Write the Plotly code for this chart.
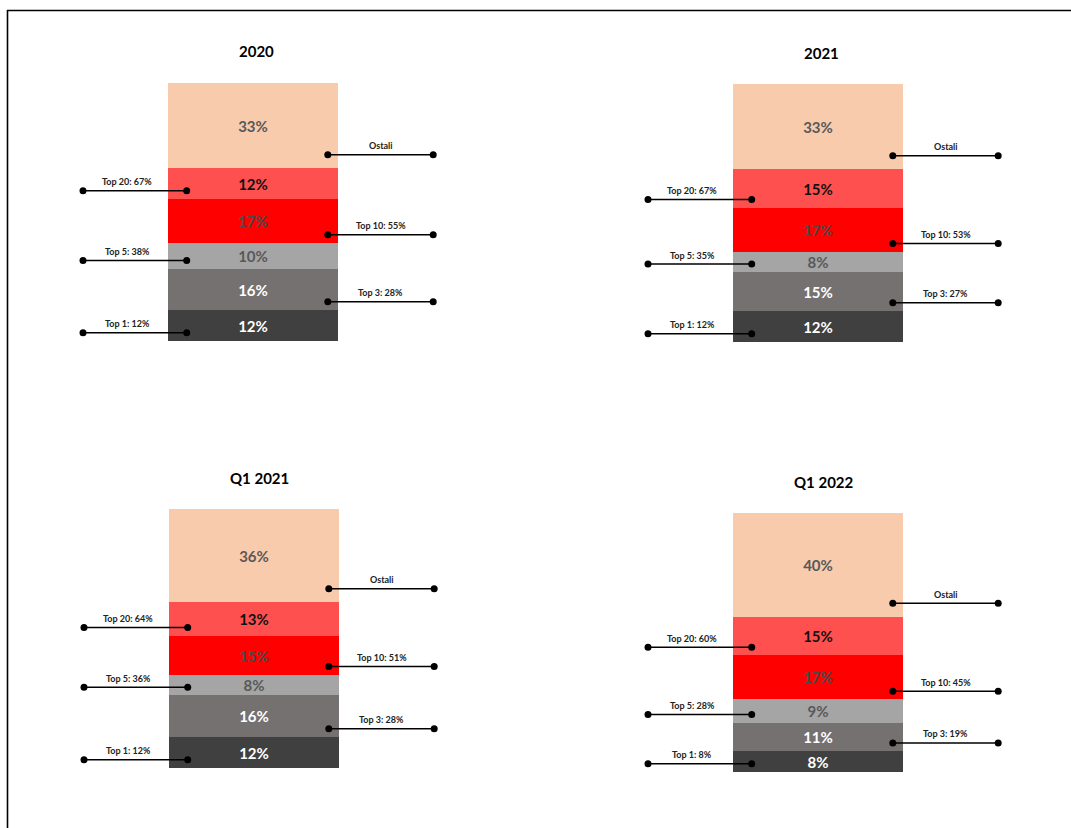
import plotly.graph_objects as go

# ---------------- data ----------------
segments = ["Top 1", "Top 2-3", "Top 4-5", "Top 6-10", "Top 11-20", "Ostali"]
panel_titles = ["2020", "2021", "Q1 2021", "Q1 2022"]

share_2020 = [12, 16, 10, 17, 12, 33]
share_2021 = [12, 15, 8, 17, 15, 33]
share_q1_2021 = [12, 16, 8, 15, 13, 36]
share_q1_2022 = [8, 11, 9, 17, 15, 40]

group_names = ["Top 1", "Top 3", "Top 5", "Top 10", "Top 20", "Ostali"]
cum_2020 = [12, 28, 38, 55, 67]
cum_2021 = [12, 27, 35, 53, 67]
cum_q1_2021 = [12, 28, 36, 51, 64]
cum_q1_2022 = [8, 19, 28, 45, 60]

shares = [share_2020, share_2021, share_q1_2021, share_q1_2022]
cums = [cum_2020, cum_2021, cum_q1_2021, cum_q1_2022]

# ---------------- styles ----------------
W, H = 1071, 828
FONT = "Lato"
seg_colors = ["#404040", "#767171", "#A5A5A5", "#FF0000", "#FF5050", "#F8CBAD"]
seg_text_colors = ["#FFFFFF", "#FFFFFF", "#595959", "#4A4A4A", "#111111", "#595959"]
label_side = ["L", "R", "L", "R", "L", "R"]
label_offset = [3.2, 3.2, 3.2, 3.2, 3.2, 5.2]

BAR_PX = 170
# (bar centre x, bar top y, bar bottom y, title x, title y) in pixels
geo = [
    (253, 83, 341, 256, 51),
    (818, 84, 342, 821, 53),
    (254, 509, 768, 259, 478),
    (818, 513, 772, 824, 482),
]
XR = 1.3
LEFT_LINE = (-1.0, -0.39)
RIGHT_LINE = (0.44, 1.06)
LEFT_TXT, RIGHT_TXT = -0.74, 0.75

fig = go.Figure()
annotations = []
layout_axes = {}

for k in range(4):
    sfx = "" if k == 0 else str(k + 1)
    xa, ya = "x" + sfx, "y" + sfx
    cx, yt, yb, tx, ty = geo[k]
    vals = shares[k]
    cum = cums[k]

    layout_axes["xaxis" + sfx] = dict(
        domain=[(cx - XR * BAR_PX) / W, (cx + XR * BAR_PX) / W],
        range=[-XR, XR], visible=False, fixedrange=True, anchor=ya,
    )
    layout_axes["yaxis" + sfx] = dict(
        domain=[1 - yb / H, 1 - yt / H],
        range=[0, 100], visible=False, fixedrange=True, anchor=xa,
    )

    for i, v in enumerate(vals):
        fig.add_trace(go.Bar(
            x=[0], y=[v], width=1, xaxis=xa, yaxis=ya,
            name=segments[i], showlegend=False,
            marker=dict(color=seg_colors[i], line=dict(width=0)),
            text=[f"{v}%"], textposition="inside", insidetextanchor="middle",
            constraintext="none",
            textfont=dict(family=FONT, size=15, color=seg_text_colors[i], weight=700),
            hoverinfo="skip",
        ))

    for j, g in enumerate(group_names):
        base = sum(vals[:j])
        yl = base + label_offset[j]
        x0, x1 = LEFT_LINE if label_side[j] == "L" else RIGHT_LINE
        fig.add_trace(go.Scatter(
            x=[x0, x1], y=[yl, yl], xaxis=xa, yaxis=ya, mode="lines+markers",
            line=dict(color="#000000", width=1.5),
            marker=dict(color="#000000", size=7),
            showlegend=False, cliponaxis=False, hoverinfo="skip",
        ))
        txt = g if j == len(group_names) - 1 else f"{g}: {cum[j]}%"
        annotations.append(dict(
            x=LEFT_TXT if label_side[j] == "L" else RIGHT_TXT, y=yl,
            xref=xa, yref=ya, text=txt, showarrow=False, yshift=9,
            font=dict(family=FONT, size=9, color="#222222", weight=700),
            xanchor="center", yanchor="middle",
        ))

    annotations.append(dict(
        x=tx / W, y=1 - ty / H, xref="paper", yref="paper", text=panel_titles[k],
        showarrow=False, xanchor="center", yanchor="middle",
        font=dict(family=FONT, size=15, color="#000000", weight=700),
    ))

shapes = [
    dict(type="line", xref="paper", yref="paper", x0=7 / W, x1=1.0,
         y0=1 - 10.5 / H, y1=1 - 10.5 / H, line=dict(color="#000000", width=1.6)),
    dict(type="line", xref="paper", yref="paper", x0=7.5 / W, x1=7.5 / W,
         y0=0, y1=1 - 10 / H, line=dict(color="#000000", width=1.6)),
]

fig.update_layout(
    width=W, height=H, margin=dict(l=0, r=0, t=0, b=0),
    paper_bgcolor="#FFFFFF", plot_bgcolor="rgba(0,0,0,0)",
    barmode="stack", bargap=0, showlegend=False,
    annotations=annotations, shapes=shapes,
    **layout_axes,
)

fig.write_html("out.html", config={"displayModeBar": False})
